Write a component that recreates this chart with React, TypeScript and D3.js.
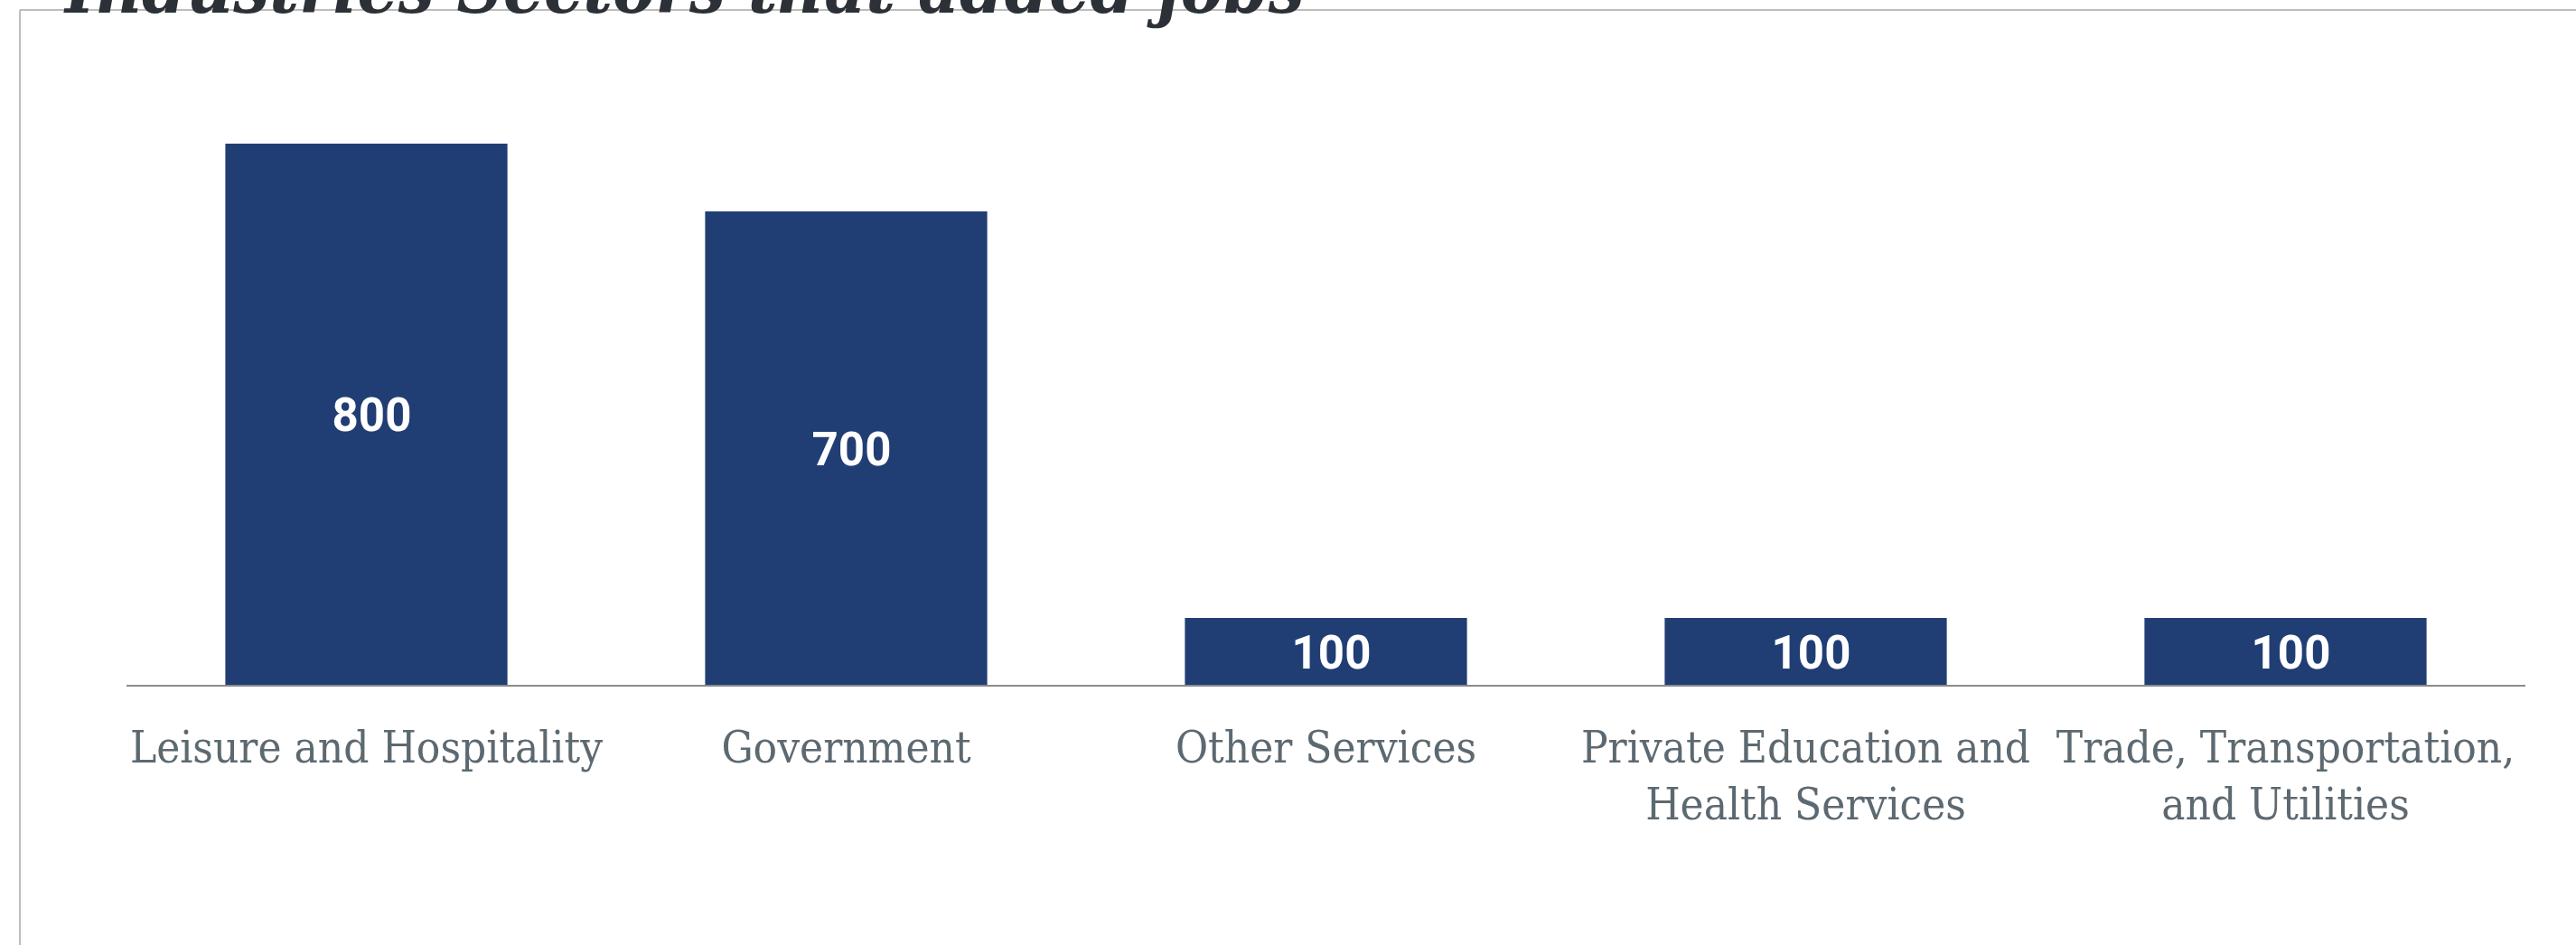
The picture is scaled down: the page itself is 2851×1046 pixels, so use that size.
import React from "react";
import * as d3 from "d3";

const title = "Industries Sectors that added jobs";

const categories = [
  "Leisure and Hospitality",
  "Government",
  "Other Services",
  "Private Education and Health Services",
  "Trade, Transportation, and Utilities",
];

// tick labels, already broken into lines the way the reference wraps them
const tickLabels = [
  ["Leisure and Hospitality"],
  ["Government"],
  ["Other Services"],
  ["Private Education and", "Health Services"],
  ["Trade, Transportation,", "and Utilities"],
];

const jobsAdded = [800, 700, 100, 100, 100];

const width = 2851;
const height = 1046;

const BarChart: React.FC = () => {
  const x = d3.scaleBand<string>().domain(categories).range([140, 2795]).paddingInner(0.412).paddingOuter(0.206);

  const y = d3.scaleLinear().domain([0, 1000]).range([759, 9]);

  return (
    <svg width={width} height={height} style={{ display: "block" }}>
      <rect width={width} height={height} fill="#ffffff" />

      {/* frame */}
      <line x1={22} x2={width} y1={11} y2={11} stroke="#bdbdbd" strokeWidth={2} />
      <line x1={22} x2={22} y1={11} y2={height} stroke="#bdbdbd" strokeWidth={2} />

      <text
        x={72}
        y={14}
        fontFamily="'DejaVu Serif Condensed', 'DejaVu Serif', serif"
        fontStyle="italic"
        fontWeight="bold"
        fontSize={79}
        fill="#2b3136"
      >
        {title}
      </text>

      {categories.map((c, i) => (
        <g key={c}>
          <rect x={x(c)} y={y(jobsAdded[i])} width={x.bandwidth()} height={y(0) - y(jobsAdded[i])} fill="#213e74" />
          <text
            x={(x(c) ?? 0) + x.bandwidth() / 2}
            y={(y(jobsAdded[i]) + y(0)) / 2}
            dx={6}
            dy="0.36em"
            textAnchor="middle"
            fontFamily="Roboto, sans-serif"
            fontWeight="bold"
            fontSize={51}
            fill="#ffffff"
          >
            {d3.format(",")(jobsAdded[i])}
          </text>
        </g>
      ))}

      {/* baseline */}
      <line x1={x.range()[0]} x2={x.range()[1]} y1={y(0)} y2={y(0)} stroke="#8a8a8a" strokeWidth={2} />

      {categories.map((c, i) => (
        <text
          key={c + "-label"}
          x={(x(c) ?? 0) + x.bandwidth() / 2}
          y={844}
          textAnchor="middle"
          fontFamily="'DejaVu Serif Condensed', 'DejaVu Serif', serif"
          fontSize={49}
          fill="#5d6971"
        >
          {tickLabels[i].map((line, j) => (
            <tspan key={j} x={(x(c) ?? 0) + x.bandwidth() / 2} dy={j === 0 ? 0 : 63}>
              {line}
            </tspan>
          ))}
        </text>
      ))}
    </svg>
  );
};

export default function App() {
  return (
    <div style={{ position: "absolute", left: 0, top: 0 }}>
      <BarChart />
    </div>
  );
}
